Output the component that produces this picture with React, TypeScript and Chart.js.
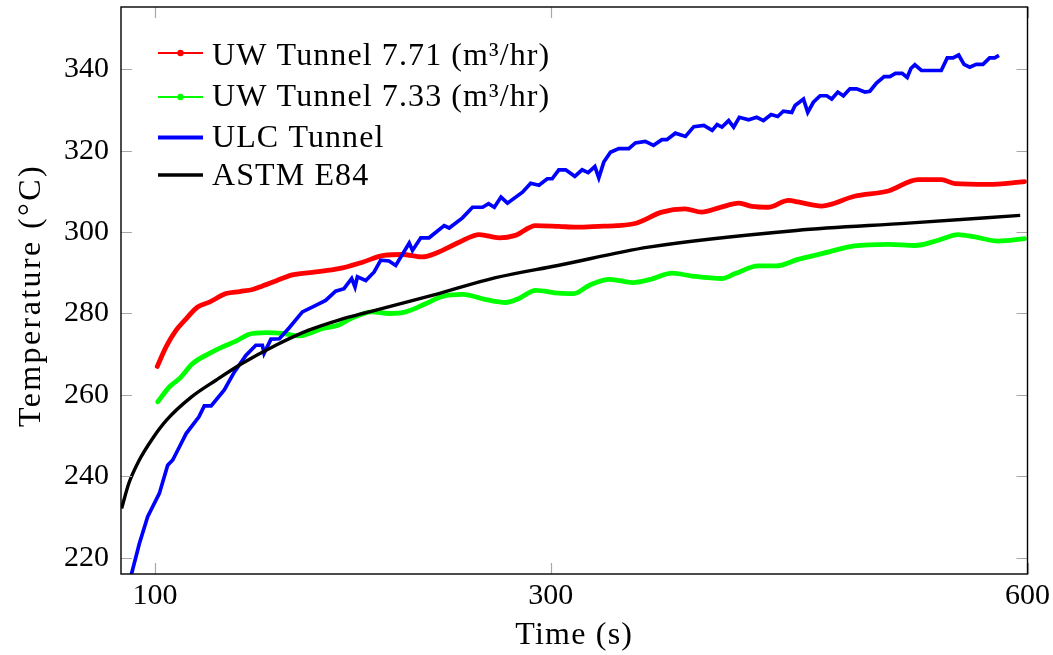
import React, { useEffect, useRef } from "react";
import { Chart, registerables } from "chart.js";

Chart.register(...registerables);

// ---- axis data ----
const X_POWER = 0.74; // the time axis is drawn on a t^0.74 scale
const xRange = [85.75, 600];
const xTicks = [100, 300, 600];
const xTickLabels = ["100", "300", "600"];
const yRange = [216, 355.3];
const yTicks = [220, 240, 260, 280, 300, 320, 340];
const xTitle = "Time (s)";
const yTitle = "Temperature (°C)";

const seriesLabels = [
  "UW Tunnel 7.71 (m³/hr)",
  "UW Tunnel 7.33 (m³/hr)",
  "ULC Tunnel",
  "ASTM E84",
];
const seriesColors = ["#ff0000", "#00ff00", "#0000ff", "#000000"];

// ---- series data (time in s, temperature in °C) ----
const uw771Time = [101, 104.8, 109.2, 113.6, 118.7, 124, 131.6, 138, 144, 147.3, 155, 163, 174.5, 186, 198, 209, 218.7, 229, 238, 249, 260, 271, 280, 291.4, 304.6, 315, 327.7, 338, 349, 365, 379, 389, 400, 412, 420, 430, 443, 449, 464, 485, 507, 526.6, 542, 551, 573, 598];
const uw771Temp = [267.0, 271.8, 275.9, 278.7, 281.6, 282.8, 284.9, 285.4, 285.9, 286.5, 288.0, 289.5, 290.2, 291.0, 292.6, 294.3, 294.5, 293.9, 295.1, 297.5, 299.4, 298.6, 299.2, 301.6, 301.4, 301.2, 301.4, 301.6, 302.1, 304.9, 305.7, 304.9, 306.0, 307.1, 306.3, 306.1, 307.8, 307.4, 306.4, 308.8, 310.1, 312.9, 312.9, 311.9, 311.7, 312.4];

const uw733Time = [101.2, 106.3, 110.6, 116.5, 124, 130, 136.2, 142.4, 150.3, 158.2, 166.3, 171.2, 177.8, 186, 191, 203, 211.7, 220.5, 231, 240, 251, 263.7, 274.7, 282, 291.4, 304.6, 313.3, 322, 334, 347.7, 357.5, 371.3, 383.2, 401.5, 409.7, 424, 435, 449, 464, 485, 507, 524.5, 540, 553, 564.5, 580, 598];
const uw733Temp = [258.3, 262.0, 264.0, 267.7, 270.2, 271.8, 273.2, 274.9, 275.3, 275.1, 274.5, 275.1, 276.3, 277.2, 278.5, 280.4, 280.0, 280.4, 282.4, 284.2, 284.7, 283.4, 282.7, 283.7, 285.7, 285.0, 284.9, 286.9, 288.4, 287.6, 288.3, 289.9, 289.2, 288.6, 289.8, 291.7, 291.7, 293.3, 294.7, 296.6, 297.0, 296.7, 298.0, 299.4, 298.8, 297.8, 298.4];

const ulcTime = [
  89, 93.4, 96.9, 101.9, 105.5, 107.7, 110.6, 113.6, 119.3, 121.7,
  124.8, 130.8, 135.4, 140.8, 145.5, 148.6, 149.4, 152.7, 156.7, 161.5,
  167.9, 174.5, 179.4, 184.4, 188.6, 192.5, 194.2, 195.4, 199.7, 204,
  207.4, 211.7, 215.2, 222.3, 224, 228.4, 232.8, 240.9, 243.6, 250.8,
  256.3, 261.8, 265.1, 268.3, 272, 275.6, 284, 288.6, 293.3, 298,
  300.8, 304.6, 308.5, 313.8, 318, 321.5, 325.4, 327.7, 330.6, 334.5,
  339.4, 345.3, 349.2, 355.1, 360, 365, 368, 373.1, 379.2, 384.3,
  390.4, 395.5, 398.5, 401.5, 405.6, 408.7, 412.2, 418, 423, 427.2,
  432, 436.1, 439.7, 445, 447.1, 452.4, 455.1, 458.7, 463, 467.2,
  470.4, 474.3, 477.9, 482.1, 486.4, 491.8, 495, 499.3, 504.3, 508,
  511.7, 516.1, 519.4, 521.8, 524.4, 528.8, 541.9, 545.9, 549.7, 553.5,
  557.1, 560.9, 565.3, 569.8, 574.3, 577.7, 580.6,
];
const ulcTemp = [
  213.5, 223.5, 230.1, 235.8, 242.7, 244.0, 247.2, 250.5, 254.6, 257.3,
  257.3, 261.2, 265.6, 269.7, 272.2, 272.2, 270.2, 273.7, 273.8, 276.5,
  280.4, 282.0, 283.2, 285.5, 286.1, 288.6, 286.5, 289.0, 288.1, 290.2,
  293.1, 292.9, 291.8, 297.3, 295.5, 298.6, 298.6, 301.6, 301.0, 303.5,
  306.1, 306.1, 307.0, 306.1, 308.6, 307.1, 309.8, 312.0, 311.5, 313.1,
  313.1, 315.3, 315.3, 313.7, 315.3, 314.6, 316.1, 313.3, 317.2, 319.6,
  320.5, 320.5, 321.9, 322.3, 321.3, 322.7, 322.7, 324.3, 323.5, 325.9,
  326.2, 325.0, 326.4, 325.8, 327.4, 325.8, 328.2, 327.6, 328.2, 327.4,
  328.9, 328.4, 329.7, 329.4, 331.1, 332.7, 329.4, 331.9, 333.5, 333.5,
  332.7, 334.4, 333.5, 335.2, 335.2, 334.4, 334.6, 336.6, 338.2, 338.2,
  339.0, 339.0, 338.0, 340.2, 341.1, 339.7, 339.7, 342.8, 342.8, 343.5,
  341.2, 340.5, 341.2, 341.2, 342.8, 342.8, 343.4,
];

const astmTime = [86, 89, 93, 99, 105, 116, 127, 139, 155, 171, 186, 203, 238, 269, 304, 357, 448, 520, 595];
const astmTemp = [232.1, 238.3, 243.6, 249.3, 253.8, 259.5, 263.6, 267.7, 272.2, 275.9, 278.4, 280.6, 284.9, 288.8, 291.8, 296.3, 300.4, 302.2, 304.1];

const FONT_FAMILY = '"Liberation Serif", "Times New Roman", serif';
const TICK_SIZE = 30;
const TEXT_SIZE = 32;

const fx = (t: number) => Math.pow(t, X_POWER);
const toPoints = (ts: number[], vs: number[]) => ts.map((t, i) => ({ x: fx(t), y: vs[i] }));

const framePlugin = {
  id: "frameTicks",
  afterDatasetsDraw(chart: any) {
    const { ctx, chartArea: a, scales } = chart;
    const len = 11;
    ctx.save();
    ctx.strokeStyle = "#a8a8a8";
    ctx.lineWidth = 1.2;
    ctx.beginPath();
    for (const t of xTicks) {
      const px = Math.round(scales.x.getPixelForValue(fx(t))) + 0.5;
      ctx.moveTo(px, a.bottom);
      ctx.lineTo(px, a.bottom - len);
      ctx.moveTo(px, a.top);
      ctx.lineTo(px, a.top + len);
    }
    for (const v of yTicks) {
      const py = Math.round(scales.y.getPixelForValue(v)) + 0.5;
      ctx.moveTo(a.left, py);
      ctx.lineTo(a.left + len, py);
      ctx.moveTo(a.right, py);
      ctx.lineTo(a.right - len, py);
    }
    ctx.stroke();
    ctx.strokeStyle = "#000";
    ctx.lineWidth = 1.4;
    ctx.strokeRect(a.left, a.top, a.right - a.left, a.bottom - a.top);
    ctx.restore();
  },
};

const textPlugin = {
  id: "legendAndTitles",
  afterDraw(chart: any) {
    const { ctx, chartArea: a } = chart;
    const x0 = a.left + 37;
    const x1 = a.left + 82;
    const tx = a.left + 91;
    const lineYs = [46, 90, 130.5, 168];
    const baseYs = [58, 99, 140, 177.5];
    const styles = [
      { w: 2, dot: true },
      { w: 2, dot: true },
      { w: 4, dot: false },
      { w: 3.6, dot: false },
    ];
    ctx.save();
    ctx.font = `${TEXT_SIZE}px ${FONT_FAMILY}`;
    seriesLabels.forEach((label, i) => {
      const ly = a.top + lineYs[i];
      ctx.strokeStyle = seriesColors[i];
      ctx.lineWidth = styles[i].w;
      ctx.beginPath();
      ctx.moveTo(x0, ly);
      ctx.lineTo(x1, ly);
      ctx.stroke();
      if (styles[i].dot) {
        ctx.fillStyle = seriesColors[i];
        ctx.beginPath();
        ctx.arc((x0 + x1) / 2, ly, 3.2, 0, Math.PI * 2);
        ctx.fill();
      }
      ctx.fillStyle = "#000";
      (ctx as any).letterSpacing = "1.1px";
      ctx.textBaseline = "alphabetic";
      ctx.textAlign = "left";
      ctx.fillText(label, tx, a.top + baseYs[i]);
    });

    // axis titles
    ctx.fillStyle = "#000";
    ctx.textBaseline = "middle";
    ctx.textAlign = "center";
    (ctx as any).letterSpacing = "1.2px";
    ctx.fillText(xTitle, (a.left + a.right) / 2, 636);
    ctx.translate(32, (a.top + a.bottom) / 2 + 5);
    ctx.rotate(-Math.PI / 2);
    (ctx as any).letterSpacing = "2.4px";
    ctx.fillText(yTitle, 0, 0);
    ctx.restore();
  },
};

export default function App() {
  const canvasRef = useRef<HTMLCanvasElement | null>(null);

  useEffect(() => {
    const canvas = canvasRef.current;
    if (!canvas) return;
    const font = { family: FONT_FAMILY, size: TICK_SIZE };
    const chart = new Chart(canvas, {
      type: "line",
      data: {
        datasets: [
          {
            label: seriesLabels[0],
            data: toPoints(uw771Time, uw771Temp),
            borderColor: seriesColors[0],
            backgroundColor: seriesColors[0],
            borderWidth: 4.8,
            pointRadius: 0,
            cubicInterpolationMode: "monotone",
            borderCapStyle: "round",
            borderJoinStyle: "round",
            order: 3,
          },
          {
            label: seriesLabels[1],
            data: toPoints(uw733Time, uw733Temp),
            borderColor: seriesColors[1],
            backgroundColor: seriesColors[1],
            borderWidth: 4.8,
            pointRadius: 0,
            cubicInterpolationMode: "monotone",
            borderCapStyle: "round",
            borderJoinStyle: "round",
            order: 2,
          },
          {
            label: seriesLabels[2],
            data: toPoints(ulcTime, ulcTemp),
            borderColor: seriesColors[2],
            backgroundColor: seriesColors[2],
            borderWidth: 3.7,
            pointRadius: 0,
            tension: 0,
            borderJoinStyle: "miter",
            order: 1,
          },
          {
            label: seriesLabels[3],
            data: toPoints(astmTime, astmTemp),
            borderColor: seriesColors[3],
            backgroundColor: seriesColors[3],
            borderWidth: 3.4,
            pointRadius: 0,
            cubicInterpolationMode: "monotone",
            borderJoinStyle: "round",
            order: 0,
          },
        ],
      },
      options: {
        animation: false,
        responsive: false,
        devicePixelRatio: 1,
        parsing: false as any,
        layout: { padding: { top: 7, right: 25.5, left: 0, bottom: 0 } },
        plugins: {
          legend: { display: false },
          tooltip: { enabled: false },
        },
        scales: {
          x: {
            type: "linear",
            min: fx(xRange[0]),
            max: fx(xRange[1]),
            afterBuildTicks: (s: any) => {
              s.ticks = xTicks.map((t) => ({ value: fx(t) }));
            },
            afterFit: (s: any) => {
              s.height = 81;
              s.paddingLeft = 0;
              s.paddingRight = 0;
              s.paddingTop = 0;
              s.paddingBottom = 0;
            },
            ticks: {
              callback: (_v: any, i: number) => xTickLabels[i],
              font,
              color: "#000",
              padding: 4,
              maxRotation: 0,
              autoSkip: false,
            },
            grid: { display: false, drawTicks: false },
            border: { display: false },
            title: { display: false },
          },
          y: {
            type: "linear",
            min: yRange[0],
            max: yRange[1],
            afterBuildTicks: (s: any) => {
              s.ticks = yTicks.map((v) => ({ value: v }));
            },
            afterFit: (s: any) => {
              s.width = 121;
              s.paddingLeft = 0;
              s.paddingRight = 0;
              s.paddingTop = 0;
              s.paddingBottom = 0;
            },
            ticks: {
              font,
              color: "#000",
              padding: 12,
              autoSkip: false,
            },
            grid: { display: false, drawTicks: false },
            border: { display: false },
            title: { display: false },
          },
        },
      },
      plugins: [framePlugin, textPlugin],
    } as any);
    return () => chart.destroy();
  }, []);

  return (
    <div style={{ position: "absolute", left: 0, top: 0, width: 1053, height: 655, background: "#fff" }}>
      <canvas ref={canvasRef} width={1053} height={655} style={{ display: "block" }} />
    </div>
  );
}
